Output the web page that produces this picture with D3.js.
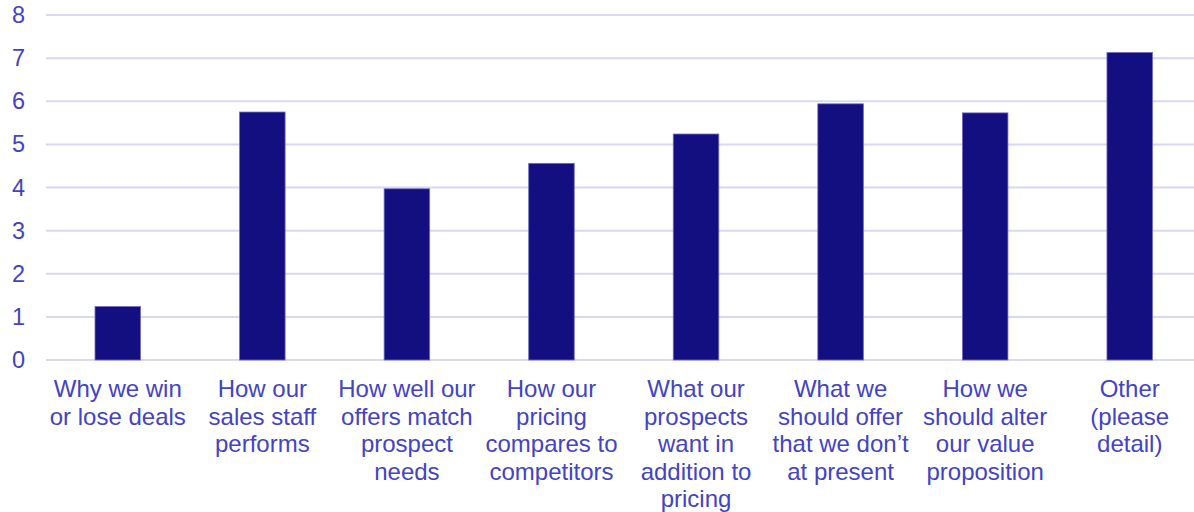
<!DOCTYPE html>
<html>
<head>
<meta charset="utf-8">
<script src="https://cdn.jsdelivr.net/npm/d3@7"></script>
<style>
  html, body { margin: 0; padding: 0; background: #ffffff; }
  svg { display: block; }
</style>
</head>
<body>
<svg id="chart" width="1194" height="512"></svg>
<script>
// Category labels, one array entry per wrapped line
const categories = [
  ["Why we win", "or lose deals"],
  ["How our", "sales staff", "performs"],
  ["How well our", "offers match", "prospect", "needs"],
  ["How our", "pricing", "compares to", "competitors"],
  ["What our", "prospects", "want in", "addition to", "pricing"],
  ["What we", "should offer", "that we don\u2019t", "at present"],
  ["How we", "should alter", "our value", "proposition"],
  ["Other", "(please", "detail)"]
];
const values = [1.24, 5.75, 3.97, 4.56, 5.24, 5.94, 5.73, 7.13];
const yTicks = [0, 1, 2, 3, 4, 5, 6, 7, 8];

const svg = d3.select("#chart");
const textColor = "#4343c3";
const barColor = "#140f80";
const gridColor = "#d8d8f2";
const font = "'Liberation Sans', Arial, sans-serif";

const x = d3.scaleBand()
  .domain(d3.range(categories.length))
  .range([45.5, 1202])
  .paddingInner(0.685)
  .paddingOuter(0.3425);

const y = d3.scaleLinear().domain([0, 8]).range([360, 15]);

// Horizontal gridlines
svg.append("g")
  .selectAll("line")
  .data(yTicks)
  .join("line")
  .attr("x1", 46)
  .attr("x2", 1194)
  .attr("y1", d => y(d))
  .attr("y2", d => y(d))
  .attr("stroke", gridColor)
  .attr("stroke-width", 2);

// Y axis labels
const yAxis = svg.append("g")
  .attr("transform", "translate(25,0)")
  .call(d3.axisLeft(y).tickValues(yTicks).tickSize(0).tickPadding(0).tickFormat(d3.format("d")));
yAxis.select(".domain").remove();
yAxis.selectAll("text")
  .attr("fill", textColor)
  .attr("font-family", font)
  .attr("font-size", 23.5);

// Bars
svg.append("g")
  .selectAll("rect")
  .data(values)
  .join("rect")
  .attr("x", (d, i) => x(i))
  .attr("width", x.bandwidth())
  .attr("y", d => y(d))
  .attr("height", d => y(0) - y(d))
  .attr("fill", barColor)
  .attr("stroke", "#6f6cc0")
  .attr("stroke-width", 0.8);

// Category labels
const labels = svg.append("g")
  .selectAll("text")
  .data(categories)
  .join("text")
  .attr("x", (d, i) => x(i) + x.bandwidth() / 2)
  .attr("y", 397)
  .attr("text-anchor", "middle")
  .attr("fill", textColor)
  .attr("font-family", font)
  .attr("font-size", 24);

labels.selectAll("tspan")
  .data(d => d)
  .join("tspan")
  .attr("x", function () { return this.parentNode.getAttribute("x"); })
  .attr("dy", (d, i) => i === 0 ? 0 : 27.6)
  .text(d => d);
</script>
</body>
</html>
